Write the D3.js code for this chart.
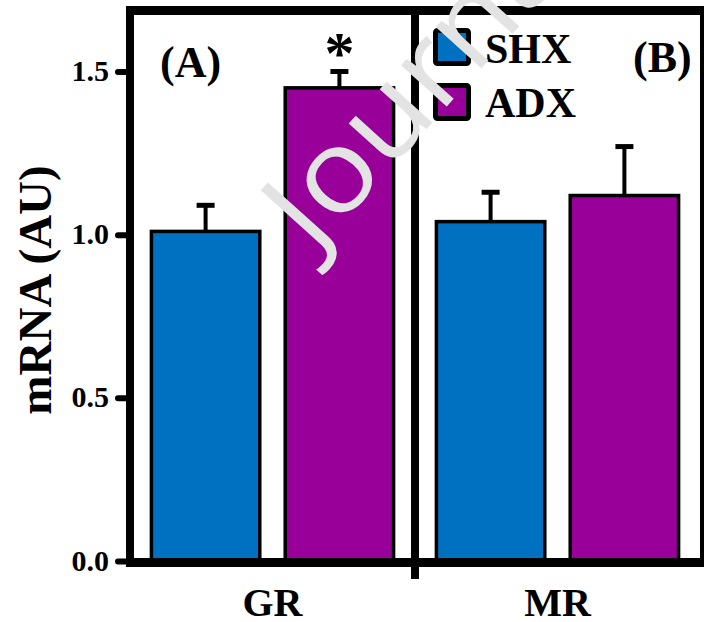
<!DOCTYPE html>
<html><head><meta charset="utf-8">
<script src="https://cdn.jsdelivr.net/npm/d3@7"></script>
<style>body{margin:0;background:#fff;} svg{display:block;}</style>
</head><body>
<svg id="chart" width="704" height="622"></svg>
<script>
const categories = ["GR", "MR"];
const series = ["SHX", "ADX"];
const shxValues = [1.01, 1.04];
const adxValues = [1.45, 1.12];
const shxErrors = [0.08, 0.09];
const adxErrors = [0.05, 0.15];
const yTicks = [0.0, 0.5, 1.0, 1.5];
const panelLabels = ["(A)", "(B)"];
const yTitle = "mRNA (AU)";
const watermark = "Journal Pre-proof";
const colors = { SHX: "#0070C0", ADX: "#990099" };

const rows = categories.map((c, i) => ({
  cat: c,
  vals: [
    { s: "SHX", v: shxValues[i], e: shxErrors[i] },
    { s: "ADX", v: adxValues[i], e: adxErrors[i] }
  ]
}));

const svg = d3.select("#chart");
const serif = "'Liberation Serif','Times New Roman',serif";
const L = 130, R = 700, T = 10.5, B = 561;

const y = d3.scaleLinear().domain([0, 1.687]).range([B, T]);
const x0 = d3.scaleBand().domain(categories).range([L, R]).padding(0);
const x1 = d3.scaleBand().domain(series).range([0, x0.bandwidth()])
  .paddingInner(0.19).paddingOuter(0.16);

// bars
const g = svg.append("g");
const grp = g.selectAll("g.cat").data(rows).join("g")
  .attr("transform", d => `translate(${x0(d.cat)},0)`);
grp.selectAll("rect").data(d => d.vals).join("rect")
  .attr("x", d => x1(d.s))
  .attr("y", d => y(d.v))
  .attr("width", x1.bandwidth())
  .attr("height", d => y(0) - y(d.v))
  .attr("fill", d => colors[d.s])
  .attr("stroke", "#000").attr("stroke-width", 3.5);
// error bars
grp.selectAll("line.err").data(d => d.vals).join("line").attr("class", "err")
  .attr("x1", d => x1(d.s) + x1.bandwidth() / 2)
  .attr("x2", d => x1(d.s) + x1.bandwidth() / 2)
  .attr("y1", d => y(d.v)).attr("y2", d => y(d.v + d.e))
  .attr("stroke", "#000").attr("stroke-width", 4);
grp.selectAll("line.cap").data(d => d.vals).join("line").attr("class", "cap")
  .attr("x1", d => x1(d.s) + x1.bandwidth() / 2 - 9)
  .attr("x2", d => x1(d.s) + x1.bandwidth() / 2 + 9)
  .attr("y1", d => y(d.v + d.e)).attr("y2", d => y(d.v + d.e))
  .attr("stroke", "#000").attr("stroke-width", 5);

// y axis ticks
const yAxis = d3.axisLeft(y).tickValues(yTicks).tickFormat(d3.format(".1f"))
  .tickSize(14).tickPadding(8);
const ya = svg.append("g").attr("transform", `translate(${L},0)`).call(yAxis);
ya.select(".domain").remove();
ya.selectAll(".tick line").attr("stroke", "#000").attr("stroke-width", 6)
  .attr("stroke-linecap", "round").attr("x2", -12);
ya.selectAll(".tick text").attr("font-family", serif).attr("font-weight", "bold")
  .attr("font-size", 30).attr("fill", "#000").attr("dy", null).attr("y", 9)
  .attr("x", -21);

// x axis labels
const xAxis = d3.axisBottom(x0).tickSize(0).tickPadding(0);
const xa = svg.append("g").attr("transform", `translate(0,${B})`).call(xAxis);
xa.select(".domain").remove();
xa.selectAll(".tick text").attr("font-family", serif).attr("font-weight", "bold")
  .attr("font-size", 40).attr("fill", "#000").attr("dy", null).attr("y", 55);

// frame
svg.append("line").attr("x1", L).attr("x2", L).attr("y1", T - 4.5).attr("y2", B + 6)
  .attr("stroke", "#000").attr("stroke-width", 8);
svg.append("line").attr("x1", L - 4).attr("x2", 704).attr("y1", T).attr("y2", T)
  .attr("stroke", "#000").attr("stroke-width", 9);
svg.append("line").attr("x1", L - 4).attr("x2", 704).attr("y1", B + 1.5).attr("y2", B + 1.5)
  .attr("stroke", "#000").attr("stroke-width", 9);
svg.append("line").attr("x1", R + 4).attr("x2", R + 4).attr("y1", T).attr("y2", B)
  .attr("stroke", "#000").attr("stroke-width", 8);
// divider between panels
svg.append("line").attr("x1", x0("MR")).attr("x2", x0("MR")).attr("y1", T).attr("y2", 579)
  .attr("stroke", "#000").attr("stroke-width", 8);

// panel labels
svg.append("text").attr("x", 160).attr("y", 77).text(panelLabels[0])
  .attr("font-family", serif).attr("font-weight", "bold").attr("font-size", 44);
svg.append("text").attr("x", 633).attr("y", 72).text(panelLabels[1])
  .attr("font-family", serif).attr("font-weight", "bold").attr("font-size", 44);

// significance asterisk
svg.append("text").attr("x", x0("GR") + x1("ADX") + x1.bandwidth() / 2).attr("y", 73)
  .attr("text-anchor", "middle").text("*")
  .attr("font-family", serif).attr("font-weight", "bold").attr("font-size", 60);

// legend
const lg = svg.append("g");
series.forEach((s, i) => {
  lg.append("rect").attr("x", 435.5).attr("y", 30.5 + i * 55).attr("width", 33).attr("height", 33)
    .attr("rx", 2).attr("fill", colors[s]).attr("stroke", "#000").attr("stroke-width", 5);
  lg.append("text").attr("x", 485).attr("y", 63 + i * 54).text(s)
    .attr("font-family", serif).attr("font-weight", "bold").attr("font-size", 42);
});

// y title
svg.append("text").attr("transform", "translate(51,290) rotate(-90)")
  .attr("text-anchor", "middle").text(yTitle)
  .attr("font-family", serif).attr("font-weight", "bold").attr("font-size", 47);

// watermark
svg.append("text").attr("transform", "translate(314,254) rotate(-48) scale(1.1,1)")
  .text(watermark).attr("font-family", "'Open Sans', sans-serif")
  .attr("font-size", 115).attr("fill", "#e3e3e3");
</script>
</body></html>
